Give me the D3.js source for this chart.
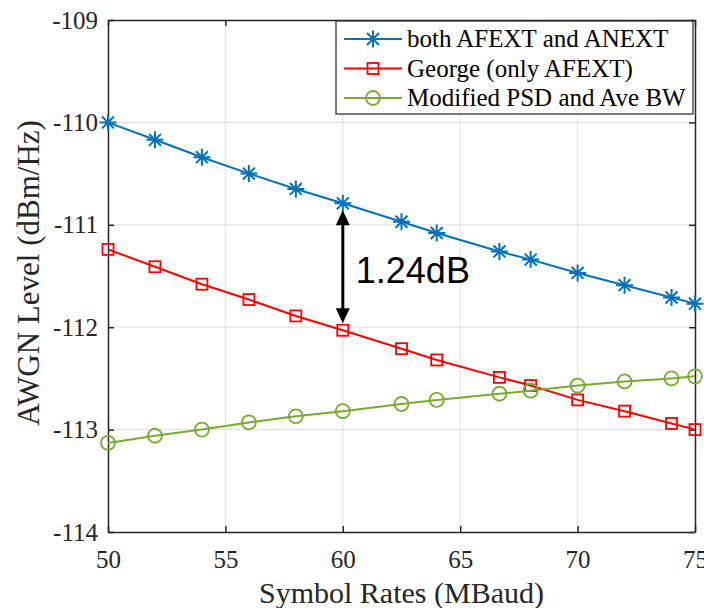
<!DOCTYPE html>
<html>
<head>
<meta charset="utf-8">
<script src="https://cdn.jsdelivr.net/npm/d3@7"></script>
<style>
  body { margin: 0; background: #fff; }
  svg { display: block; }
</style>
</head>
<body>
<div id="chart"></div>
<script>
// symbol rates (MBaud) and AWGN level per series (dBm/Hz)
var rates = [50, 52, 54, 56, 58, 60, 62.5, 64, 66.67, 68, 70, 72, 74, 75];
var bothLevels = [-110.00, -110.17, -110.34, -110.50, -110.65, -110.79, -110.97, -111.08, -111.26, -111.34, -111.47, -111.59, -111.71, -111.77];
var georgeLevels = [-111.24, -111.41, -111.58, -111.73, -111.89, -112.03, -112.21, -112.32, -112.49, -112.57, -112.71, -112.82, -112.94, -113.00];
var modifiedLevels = [-113.13, -113.06, -113.00, -112.93, -112.87, -112.82, -112.75, -112.71, -112.65, -112.62, -112.57, -112.53, -112.50, -112.48];
var seriesNames = ["both AFEXT and ANEXT", "George (only AFEXT)", "Modified PSD and Ave BW"];
var xTicks = [50, 55, 60, 65, 70, 75];
var yTicks = [-114, -113, -112, -111, -110, -109];
var gapLabel = "1.24dB";
var gapRate = 60;

(function () {
    var W = 704, H = 608;
    var margin = { top: 20, right: 9, bottom: 76, left: 108 };
    var width = W - margin.left - margin.right,
        height = H - margin.top - margin.bottom;

    var svg = d3.select('#chart')
                .append('svg')
                .attr('width', W)
                .attr('height', H)
                .append('g')
                .attr('transform', 'translate(' + margin.left + ',' + margin.top + ')');

    var x = d3.scaleLinear().domain([50, 75]).range([0, width]);
    var y = d3.scaleLinear().domain([-114, -109]).range([height, 0]);

    var axisColor = '#262626';
    var serif = '"Liberation Serif", "Times New Roman", serif';

    // grid
    svg.append('g').selectAll('line.gx')
        .data(xTicks.slice(1, -1)).enter().append('line')
        .attr('x1', function(d) { return x(d); }).attr('x2', function(d) { return x(d); })
        .attr('y1', 0).attr('y2', height)
        .style('stroke', '#dfdfdf').style('stroke-width', 1);
    svg.append('g').selectAll('line.gy')
        .data(yTicks.slice(1, -1)).enter().append('line')
        .attr('y1', function(d) { return y(d); }).attr('y2', function(d) { return y(d); })
        .attr('x1', 0).attr('x2', width)
        .style('stroke', '#dfdfdf').style('stroke-width', 1);

    // axes
    var xAxis = svg.append('g')
        .attr('transform', 'translate(0,' + height + ')')
        .call(d3.axisBottom(x).tickValues(xTicks).tickSizeInner(-6).tickSizeOuter(0).tickPadding(18));
    var yAxis = svg.append('g')
        .call(d3.axisLeft(y).tickValues(yTicks).tickSizeInner(-6).tickSizeOuter(0).tickPadding(10)
              .tickFormat(function(d) { return d; }));
    svg.append('g')
        .call(d3.axisTop(x).tickValues(xTicks).tickSizeInner(-6).tickSizeOuter(0).tickFormat(''));
    svg.append('g')
        .attr('transform', 'translate(' + width + ',0)')
        .call(d3.axisRight(y).tickValues(yTicks).tickSizeInner(-6).tickSizeOuter(0).tickFormat(''));

    [xAxis, yAxis].forEach(function(a) {
        a.attr('font-family', serif).attr('font-size', 25);
    });
    svg.selectAll('.domain').style('stroke', axisColor).style('stroke-width', 1.5);
    svg.selectAll('.tick line').style('stroke', axisColor).style('stroke-width', 1.5);
    svg.selectAll('.tick text').style('fill', axisColor);

    // axis titles
    svg.append('text')
        .attr('x', width / 2).attr('y', height + 71)
        .attr('font-family', serif).attr('font-size', 30)
        .style('text-anchor', 'middle')
        .style('fill', axisColor)
        .text('Symbol Rates (MBaud)');
    svg.append('text')
        .attr('transform', 'translate(-69,' + (height / 2 - 3) + ') rotate(-90)')
        .attr('font-family', serif).attr('font-size', 31)
        .style('text-anchor', 'middle')
        .style('fill', axisColor)
        .text('AWGN Level (dBm/Hz)');

    var series = [
        { name: seriesNames[0], values: bothLevels, color: '#0072BD', marker: 'star' },
        { name: seriesNames[1], values: georgeLevels, color: '#FF0000', marker: 'square' },
        { name: seriesNames[2], values: modifiedLevels, color: '#77AC30', marker: 'circle' }
    ];

    var line = d3.line()
        .x(function(d) { return x(d[0]); })
        .y(function(d) { return y(d[1]); });

    function drawMarker(g, type, color) {
        if (type === 'star') {
            var r = 8.5;
            var p = 'M' + (-r) + ',0L' + r + ',0M0,' + (-r) + 'L0,' + r +
                    'M' + (-r * 0.7) + ',' + (-r * 0.7) + 'L' + (r * 0.7) + ',' + (r * 0.7) +
                    'M' + (-r * 0.7) + ',' + (r * 0.7) + 'L' + (r * 0.7) + ',' + (-r * 0.7);
            g.append('path').attr('d', p).style('stroke', color).style('stroke-width', 2).style('fill', 'none');
        } else if (type === 'square') {
            g.append('rect').attr('x', -5.5).attr('y', -5.5).attr('width', 11).attr('height', 11)
                .style('stroke', color).style('stroke-width', 1.8).style('fill', 'none');
        } else {
            g.append('circle').attr('r', 7)
                .style('stroke', color).style('stroke-width', 1.8).style('fill', 'none');
        }
    }

    series.forEach(function(s) {
        var pts = rates.map(function(r, i) { return [r, s.values[i]]; });
        svg.append('path')
            .datum(pts)
            .attr('d', line)
            .style('fill', 'none')
            .style('stroke', s.color)
            .style('stroke-width', 2);
        svg.append('g').selectAll('g')
            .data(pts).enter().append('g')
            .attr('transform', function(d) { return 'translate(' + x(d[0]) + ',' + y(d[1]) + ')'; })
            .each(function() { drawMarker(d3.select(this), s.marker, s.color); });
    });

    // gap arrow at 60 MBaud
    var gi = rates.indexOf(gapRate);
    var ax = x(gapRate), yTop = y(bothLevels[gi]) + 7, yBot = y(georgeLevels[gi]) - 7;
    var ah = 15, aw = 7;
    svg.append('line')
        .attr('x1', ax).attr('x2', ax).attr('y1', yTop + ah - 2).attr('y2', yBot - ah + 2)
        .style('stroke', '#000').style('stroke-width', 3);
    svg.append('path')
        .attr('d', 'M' + ax + ',' + yTop + 'L' + (ax - aw) + ',' + (yTop + ah) + 'L' + (ax + aw) + ',' + (yTop + ah) + 'Z')
        .style('fill', '#000');
    svg.append('path')
        .attr('d', 'M' + ax + ',' + yBot + 'L' + (ax - aw) + ',' + (yBot - ah) + 'L' + (ax + aw) + ',' + (yBot - ah) + 'Z')
        .style('fill', '#000');
    svg.append('text')
        .attr('x', ax + 13).attr('y', (yTop + yBot) / 2 + 16)
        .attr('font-family', '"Liberation Sans", Arial, sans-serif').attr('font-size', 36)
        .style('fill', '#000')
        .text(gapLabel);

    // legend
    var lg = svg.append('g').attr('transform', 'translate(' + (336 - margin.left) + ',' + (21 - margin.top) + ')');
    lg.append('rect')
        .attr('width', 357).attr('height', 93)
        .style('fill', '#fff').style('stroke', axisColor).style('stroke-width', 1.2);
    series.forEach(function(s, i) {
        var row = lg.append('g').attr('transform', 'translate(0,' + (18 + i * 29.5) + ')');
        row.append('line').attr('x1', 8).attr('x2', 66).attr('y1', 0).attr('y2', 0)
            .style('stroke', s.color).style('stroke-width', 2);
        var m = row.append('g').attr('transform', 'translate(37,0)');
        drawMarker(m, s.marker, s.color);
        row.append('text')
            .attr('x', 71).attr('y', 8)
            .attr('font-family', serif).attr('font-size', 25)
            .style('fill', '#000')
            .text(s.name);
    });
})();
</script>
</body>
</html>
